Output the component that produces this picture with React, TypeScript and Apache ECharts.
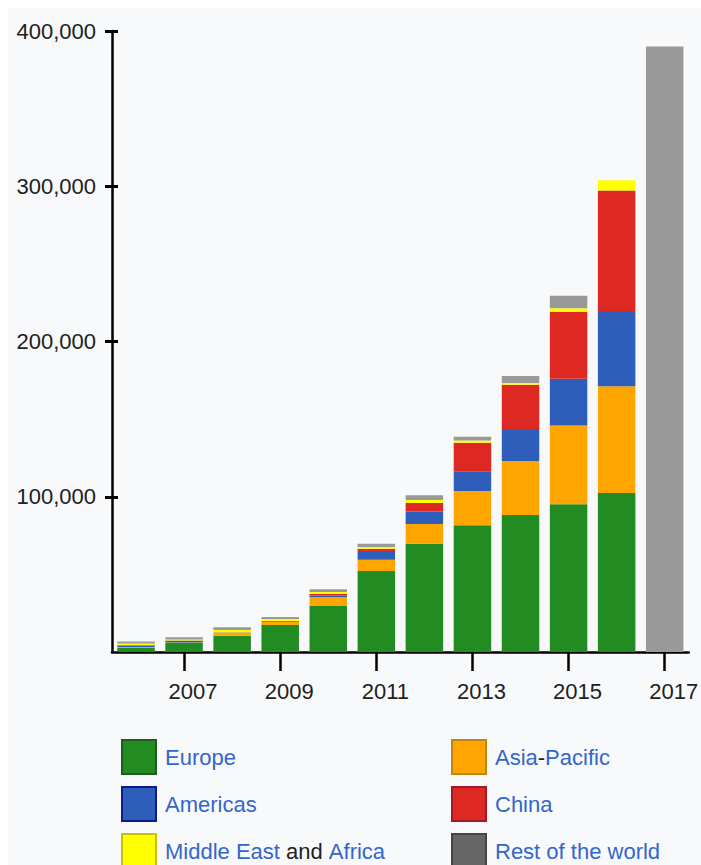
import React, { useEffect, useRef } from "react";
import * as echarts from "echarts";

const years = ["2006", "2007", "2008", "2009", "2010", "2011", "2012", "2013", "2014", "2015", "2016", "2017"];
const europe = [2850, 5800, 10500, 17400, 29600, 52200, 69800, 81600, 88200, 95100, 102400, 0];
const asiaPacific = [450, 300, 2100, 1900, 5700, 7300, 12600, 22100, 34800, 50800, 68700, 0];
const americas = [1050, 1300, 200, 300, 1100, 5600, 8100, 12700, 20600, 30100, 48500, 0];
const china = [0, 0, 0, 300, 900, 1400, 5400, 18400, 28500, 43200, 77700, 0];
const middleEastAfrica = [1100, 650, 1300, 1300, 1400, 1100, 2000, 1500, 1100, 2200, 6600, 0];
const restOfWorld = [1300, 1500, 1800, 1300, 1700, 2200, 3000, 2300, 4500, 8100, 0, 390000];
const yTicks = [100000, 200000, 300000, 400000];

const FONT = "'Liberation Sans', Arial, sans-serif";
const TEXT = "#202122";
const LINK = "#3366cc";

export default function App() {
  const ref = useRef<HTMLDivElement>(null);
  useEffect(() => {
    if (!ref.current) return;
    const chart = echarts.init(ref.current, null, { renderer: "svg" });
    const seriesDefs = [
      { name: "Europe", data: europe, color: "#228b22", legendColor: "#228b22", border: "#1b5e1f" },
      { name: "Asia-Pacific", data: asiaPacific, color: "#ffa500", legendColor: "#ffa500", border: "#c0851a" },
      { name: "Americas", data: americas, color: "#2f5eba", legendColor: "#2f5eba", border: "#0d1a8c" },
      { name: "China", data: china, color: "#de2922", legendColor: "#de2922", border: "#a3182a" },
      { name: "Middle East and Africa", data: middleEastAfrica, color: "#ffff00", legendColor: "#ffff00", border: "#c8c000" },
      { name: "Rest of the world", data: restOfWorld, color: "#999999", legendColor: "#666666", border: "#444444" },
    ];
    const legendItem = (d: any) => ({
      name: d.name,
      icon: "rect",
      itemStyle: { color: d.legendColor, borderColor: d.border, borderWidth: 2 },
    });
    const legendFormatter = (name: string) => {
      if (name === "Middle East and Africa") return "{b|Middle East} {k|and} {b|Africa}";
      if (name === "Asia-Pacific") return "{b|Asia}{k|-}{b|Pacific}";
      return "{b|" + name + "}";
    };
    const legendBase = {
      orient: "vertical",
      top: 731,
      height: 160,
      width: 260,
      padding: 0,
      itemWidth: 34,
      itemHeight: 34,
      itemGap: 11,
      selectedMode: false,
      formatter: legendFormatter,
      textStyle: {
        fontFamily: FONT,
        fontSize: 22,
        color: LINK,
        padding: [0, 0, 0, 4],
        rich: {
          b: { fontFamily: FONT, fontSize: 22, color: LINK },
          k: { fontFamily: FONT, fontSize: 22, color: TEXT },
        },
      },
    };
    const oddOnly = (index: number) => index % 2 === 1;
    chart.setOption({
      animation: false,
      backgroundColor: "#f8f9fa",
      grid: { left: 104, right: 8, top: 23, bottom: 213, containLabel: false },
      legend: [
        { ...legendBase, left: 113, data: [seriesDefs[0], seriesDefs[2], seriesDefs[4]].map(legendItem) },
        { ...legendBase, left: 443, data: [seriesDefs[1], seriesDefs[3], seriesDefs[5]].map(legendItem) },
      ],
      xAxis: {
        type: "category",
        data: years,
        axisLine: { show: true, lineStyle: { color: "#000", width: 2.5 } },
        axisTick: { show: true, alignWithLabel: true, interval: oddOnly, length: 19, lineStyle: { color: "#000", width: 2.5 } },
        axisLabel: {
          interval: oddOnly,
          margin: 28,
          fontFamily: FONT,
          fontSize: 22,
          color: TEXT,
          padding: [0, 0, 0, 18],
        },
        splitLine: { show: false },
      },
      yAxis: [
        {
          type: "value",
          min: 0,
          max: 400000,
          interval: 100000,
          axisLine: { show: true, lineStyle: { color: "#000", width: 2.5 } },
          axisTick: { show: true, length: 7, customValues: yTicks, lineStyle: { color: "#000", width: 3 } },
          axisLabel: {
            margin: 16,
            fontFamily: FONT,
            fontSize: 22,
            color: TEXT,
            customValues: yTicks,
            formatter: (v: number) => (v === 0 ? "" : v.toLocaleString("en-US")),
          },
          splitLine: { show: false },
        },
        {
          type: "value",
          position: "left",
          min: 0,
          max: 400000,
          interval: 100000,
          axisLine: { show: false },
          axisTick: { show: true, inside: true, length: 6, customValues: yTicks, lineStyle: { color: "#000", width: 3 } },
          axisLabel: { show: false },
          splitLine: { show: false },
        },
      ],
      series: seriesDefs.map((d) => ({
        name: d.name,
        type: "bar",
        stack: "total",
        barCategoryGap: "22%",
        data: d.data,
        itemStyle: { color: d.color },
        emphasis: { disabled: true },
      })),
    });
    return () => chart.dispose();
  }, []);
  return (
    <div
      ref={ref}
      style={{ position: "absolute", left: 8, top: 8, width: 693, height: 857, background: "#f8f9fa" }}
    />
  );
}
